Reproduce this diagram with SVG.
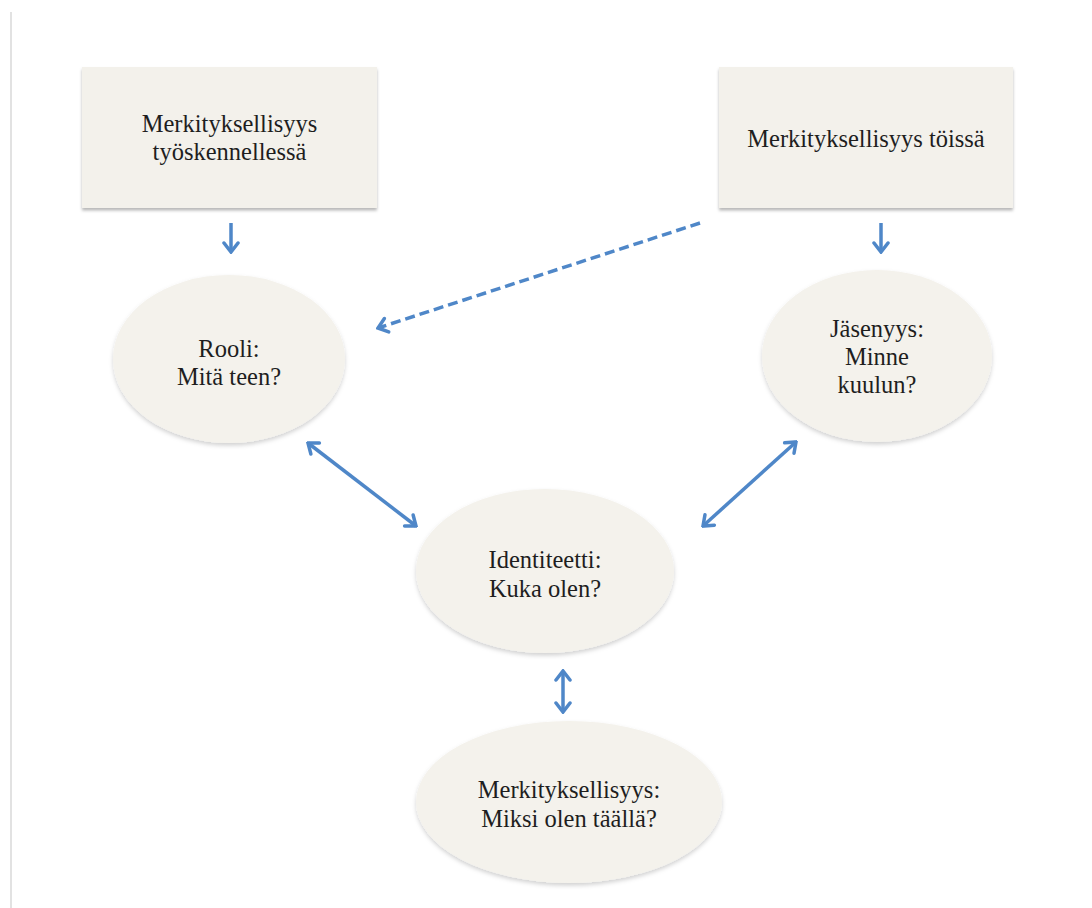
<svg xmlns="http://www.w3.org/2000/svg" width="1092" height="908" viewBox="0 0 1092 908">
<style>
.box{fill:#F3F1EB;filter:url(#sh);}
.ell{fill:#F4F2EC;filter:url(#sh2);}
.t{font-family:"Liberation Serif","Times New Roman",serif;font-size:24.5px;fill:#1e1e1e;text-anchor:middle;}
.c{stroke:#4F87C8;stroke-width:3.5;fill:none;}
.d{stroke-dasharray:10 5;}
</style>
<defs>
<filter id="sh" x="-10%" y="-10%" width="120%" height="130%">
<feDropShadow dx="0" dy="2.5" stdDeviation="1.6" flood-color="#000" flood-opacity="0.28"/>
</filter>
<filter id="sh2" x="-10%" y="-10%" width="120%" height="130%">
<feDropShadow dx="0" dy="2.5" stdDeviation="2" flood-color="#000" flood-opacity="0.18"/>
</filter>
<marker id="ah" viewBox="-12 -9 14 18" refX="0" refY="0" markerWidth="14" markerHeight="18" markerUnits="userSpaceOnUse" orient="auto-start-reverse">
<path d="M-9,-7 L0,0 L-9,7" fill="none" stroke="#4F87C8" stroke-width="3.5" stroke-linejoin="miter" stroke-linecap="round"/>
</marker>
</defs>
<rect width="1092" height="908" fill="#fff"/>
<line x1="11" y1="12" x2="11" y2="908" stroke="#e2e2e2" stroke-width="2"/>

<g id="box-tyoskennellessa">
<rect class="box" x="82" y="67" width="295" height="141"/>
<text class="t" x="229.5" y="132">Merkityksellisyys</text>
<text class="t" x="229.5" y="160">työskennellessä</text>
</g>
<g id="box-toissa">
<rect class="box" x="719" y="67" width="294" height="141"/>
<text class="t" x="866" y="147">Merkityksellisyys töissä</text>
</g>
<g id="ell-rooli">
<ellipse class="ell" cx="229" cy="359" rx="116" ry="84"/>
<text class="t" x="229" y="357">Rooli:</text>
<text class="t" x="229" y="385">Mitä teen?</text>
</g>
<g id="ell-jasenyys">
<ellipse class="ell" cx="877" cy="356" rx="115" ry="86"/>
<text class="t" x="877" y="337">Jäsenyys:</text>
<text class="t" x="877" y="365">Minne</text>
<text class="t" x="877" y="393">kuulun?</text>
</g>
<g id="ell-identiteetti">
<ellipse class="ell" cx="545" cy="571" rx="129" ry="82"/>
<text class="t" x="545" y="568">Identiteetti:</text>
<text class="t" x="545" y="597">Kuka olen?</text>
</g>
<g id="ell-merkityksellisyys">
<ellipse class="ell" cx="569" cy="802" rx="153" ry="81"/>
<text class="t" x="569" y="798">Merkityksellisyys:</text>
<text class="t" x="569" y="827">Miksi olen täällä?</text>
</g>

<g id="connectors">
<line class="c" x1="231" y1="223" x2="231" y2="252" marker-end="url(#ah)"/>
<line class="c" x1="881" y1="223" x2="881" y2="252" marker-end="url(#ah)"/>
<line class="c d" x1="700" y1="223" x2="378" y2="328" marker-end="url(#ah)"/>
<line class="c" x1="308" y1="443" x2="416" y2="526" marker-start="url(#ah)" marker-end="url(#ah)"/>
<line class="c" x1="796" y1="442" x2="703" y2="526" marker-start="url(#ah)" marker-end="url(#ah)"/>
<line class="c" x1="563" y1="671" x2="563" y2="712" marker-start="url(#ah)" marker-end="url(#ah)"/>
</g>
</svg>
